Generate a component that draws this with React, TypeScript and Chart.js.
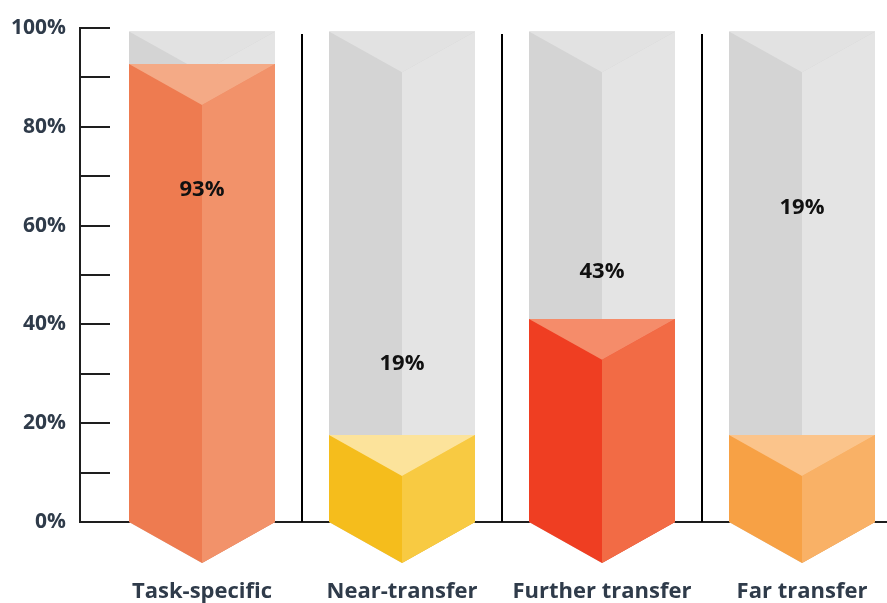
import React, { useEffect, useRef } from 'react';
import { Chart, registerables } from 'chart.js';

Chart.register(...registerables);

// ---- data ----
const categories = ['Task-specific', 'Near-transfer', 'Further transfer', 'Far transfer'];
const valueLabels = [93, 19, 43, 19];
const fillLevels = [92.7, 17.6, 41.1, 17.6];
const labelLevels = [67.3, 32, 50.6, 63.6];
const trackLevel = 99.3;
const separatorLevel = 98.8;

const leftColors = ['#ee7b50', '#f5bd1c', '#ef3e22', '#f7a145'];
const rightColors = ['#f2926a', '#f8ca42', '#f26b45', '#f9b166'];
const topColors = ['#f4aa86', '#fce39b', '#f58c6a', '#fbc48b'];
const trackLeft = '#d4d4d4';
const trackRight = '#e4e4e4';
const trackTop = '#e2e2e2';

const FONT = '"Open Sans", Lato, sans-serif';
const AXIS_COLOR = '#1e1e1e';
const TEXT_COLOR = '#2f3b4a';

function drawPrism(ctx: CanvasRenderingContext2D, L: number, M: number, R: number, top: number, base: number, d: number, cl: string, cr: string, ct: string) {
  ctx.fillStyle = cl;
  ctx.beginPath();
  ctx.moveTo(L, top);
  ctx.lineTo(R, top);
  ctx.lineTo(R, base);
  ctx.lineTo(M, base + d);
  ctx.lineTo(L, base);
  ctx.closePath();
  ctx.fill();
  ctx.fillStyle = cr;
  ctx.beginPath();
  ctx.moveTo(M, top + d);
  ctx.lineTo(R, top);
  ctx.lineTo(R, base);
  ctx.lineTo(M, base + d);
  ctx.closePath();
  ctx.fill();
  ctx.fillStyle = ct;
  ctx.beginPath();
  ctx.moveTo(L, top);
  ctx.lineTo(R, top);
  ctx.lineTo(M, top + d);
  ctx.closePath();
  ctx.fill();
}

const prismPlugin = {
  id: 'prisms',
  afterDatasetsDraw(chart: any) {
    const { ctx, chartArea, scales } = chart;
    const y = scales.y;
    const meta = chart.getDatasetMeta(0);
    const base = y.getPixelForValue(0);
    ctx.save();
    ctx.strokeStyle = AXIS_COLOR;
    ctx.lineWidth = 2;
    y.ticks.forEach((t: any) => {
      if (t.value <= 0) return;
      const py = Math.round(y.getPixelForValue(t.value));
      ctx.beginPath();
      ctx.moveTo(chartArea.left, py);
      ctx.lineTo(chartArea.left + 30, py);
      ctx.stroke();
    });
    ctx.strokeStyle = '#000';
    for (let i = 0; i < meta.data.length - 1; i++) {
      const px = Math.round((meta.data[i].x + meta.data[i + 1].x) / 2);
      ctx.beginPath();
      ctx.moveTo(px, y.getPixelForValue(separatorLevel));
      ctx.lineTo(px, base);
      ctx.stroke();
    }
    meta.data.forEach((bar: any, i: number) => {
      const { x, width, y: top } = bar.getProps(['x', 'width', 'y'], true);
      const L = x - width / 2;
      const R = x + width / 2;
      const d = (width / 2) * 0.56;
      drawPrism(ctx, L, x, R, y.getPixelForValue(trackLevel), base, d, trackLeft, trackRight, trackTop);
      drawPrism(ctx, L, x, R, top, base, d, leftColors[i], rightColors[i], topColors[i]);
    });
    ctx.fillStyle = '#111';
    ctx.font = `bold 22px ${FONT}`;
    ctx.textAlign = 'center';
    ctx.textBaseline = 'middle';
    meta.data.forEach((bar: any, i: number) => {
      ctx.fillText(`${valueLabels[i]}%`, bar.x, y.getPixelForValue(labelLevels[i]));
    });
    ctx.restore();
  },
};

export default function App() {
  const ref = useRef<HTMLCanvasElement | null>(null);
  useEffect(() => {
    if (!ref.current) return;
    const chart = new Chart(ref.current, {
      type: 'bar',
      data: {
        datasets: [
          {
            data: fillLevels.map((v, i) => ({ x: i, y: v })),
            backgroundColor: 'rgba(0,0,0,0)',
            borderWidth: 0,
            categoryPercentage: 1,
            barPercentage: 0.73,
          },
        ],
      },
      options: {
        responsive: false,
        animation: false,
        events: [],
        layout: { padding: { top: 28, left: 0, right: 0, bottom: 0 } },
        plugins: { legend: { display: false }, tooltip: { enabled: false } },
        scales: {
          x: {
            type: 'linear',
            offset: false,
            min: -0.61,
            max: 3.425,
            afterBuildTicks: (scale: any) => {
              scale.ticks = categories.map((_, i) => ({ value: i }));
            },
            afterFit: (scale: any) => {
              scale.height = 81;
              scale.paddingLeft = 0;
              scale.paddingRight = 0;
            },
            grid: { display: true, offset: false, drawOnChartArea: false, drawTicks: false },
            border: { display: true, color: AXIS_COLOR, width: 2 },
            ticks: {
              autoSkip: false,
              maxRotation: 0,
              padding: 57,
              color: TEXT_COLOR,
              font: { family: FONT, size: 22, weight: 'bold' },
              callback: (_v: any, index: number) => categories[index],
            },
          },
          y: {
            min: 0,
            max: 100,
            afterFit: (scale: any) => {
              scale.width = 80;
            },
            grid: { display: true, drawOnChartArea: false, drawTicks: false },
            border: { display: true, color: AXIS_COLOR, width: 2 },
            ticks: {
              stepSize: 10,
              padding: 14,
              color: TEXT_COLOR,
              font: { family: FONT, size: 21, weight: 'bold' },
              callback: (v: any) => (Number(v) % 20 === 0 ? `${v}%` : ''),
            },
          },
        },
      },
      plugins: [prismPlugin],
    } as any);
    return () => chart.destroy();
  }, []);
  return (
    <div style={{ position: 'fixed', left: 0, top: 0, width: 887, height: 603, background: '#fff' }}>
      <canvas ref={ref} width={887} height={603} style={{ display: 'block' }} />
    </div>
  );
}
